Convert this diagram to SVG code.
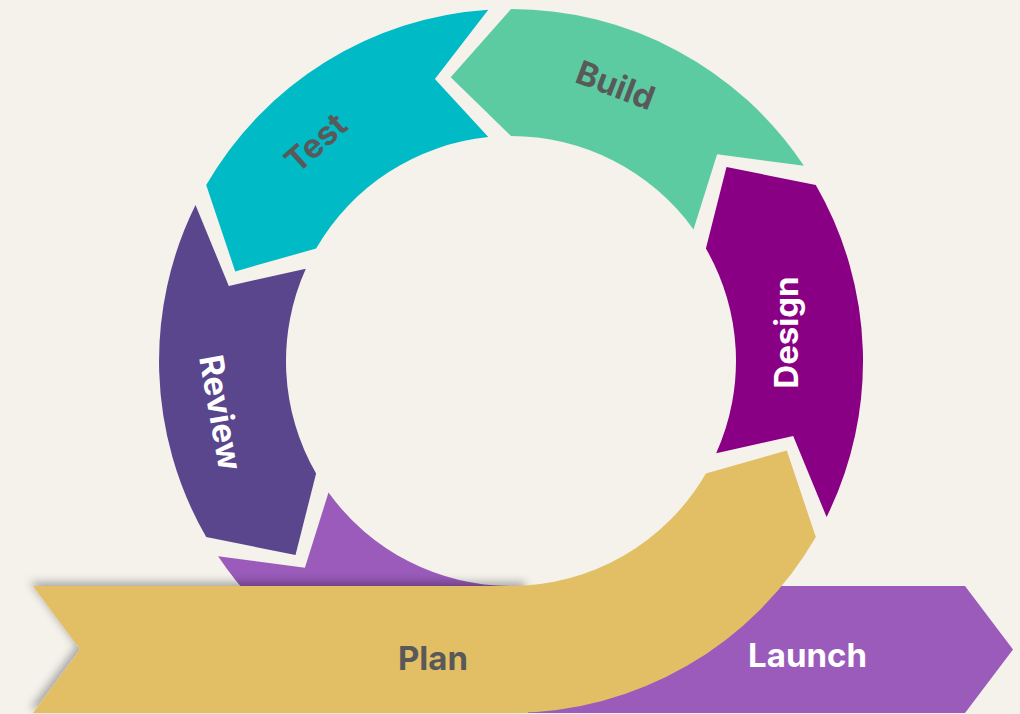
<svg xmlns="http://www.w3.org/2000/svg" width="1020" height="714" viewBox="0 0 1020 714">
  <defs>
    <filter id="shadow" x="-10%" y="-20%" width="120%" height="140%">
      <feDropShadow dx="-3" dy="-4" stdDeviation="4" flood-color="#000" flood-opacity="0.3"/>
    </filter>
    <style>
      .lbl { font-family: Inter, "Open Sans", "Liberation Sans", sans-serif; font-weight: 700; font-size: 33px; text-anchor: middle; }
      .dark { fill: #595959; }
      .light { fill: #FFFFFF; }
      .plan { fill: #E2BF65; }
    </style>
  </defs>
  <rect width="1020" height="714" fill="#F5F1EB"/>

  <g id="launch">
    <path fill="#9A5BBB" d="M218.1,556.3 A352,352 0 0 0 511,713 L965,713 L1013,649.5 L965,586 L511,586 A225,225 0 0 1 328.5,492.6 L304.9,567.8 Z"/>
    <text class="lbl light" x="807.5" y="667">Launch</text>
  </g>

  <g id="review">
    <path fill="#5A468D" d="M195.5,205 A352,352 0 0 0 206.2,537 L295.5,555 L316.1,473.5 A225,225 0 0 1 305.8,268.8 L228.8,285.9 Z"/>
    <text class="lbl light" transform="translate(209.2,414.6) rotate(80)" x="0" y="0">Review</text>
  </g>

  <g id="test">
    <path fill="#00BBC6" d="M488.3,9.7 A352,352 0 0 0 206.2,185 L235.2,271.4 L316.1,248.5 A225,225 0 0 1 488.3,137.1 L434.9,79.1 Z"/>
    <text class="lbl dark" transform="translate(323.5,151.4) rotate(-41.8)" x="0" y="0">Test</text>
  </g>

  <g id="build">
    <path fill="#5DCBA2" d="M803.9,165.7 A352,352 0 0 0 511,9 L450.7,77.3 L511,136 A225,225 0 0 1 693.5,229.4 L717.1,154.2 Z"/>
    <text class="lbl dark" transform="translate(611.3,96.2) rotate(20.7)" x="0" y="0">Build</text>
  </g>

  <g id="design">
    <path fill="#8A0085" d="M826.6,517 A352,352 0 0 0 815.8,185 L726.5,167 L705.9,248.5 A225,225 0 0 1 716.2,453.2 L793.2,436.1 Z"/>
    <text class="lbl light" transform="translate(798,332.5) rotate(-90)" x="0" y="0">Design</text>
  </g>

  <g id="plan">
    <path class="plan" filter="url(#shadow)" d="M33,586 L528,586 L528,713 L33,713 L80,649.5 Z"/>
    <path class="plan" d="M500,586 L511,586 A225,225 0 0 0 705.9,473.5 L786.8,450.6 L815.8,537 A352,352 0 0 1 511,713 L500,713 Z"/>
    <text class="lbl dark" x="433" y="670">Plan</text>
  </g>
</svg>
